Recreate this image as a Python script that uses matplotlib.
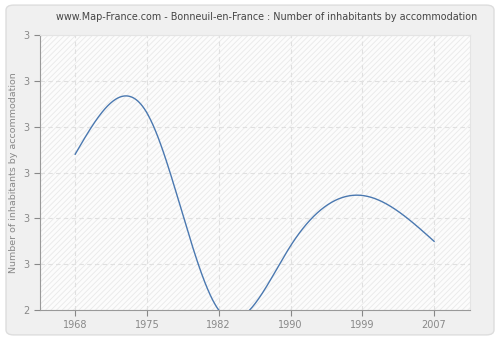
import numpy as np
import matplotlib.pyplot as plt
from matplotlib.patches import FancyBboxPatch, Rectangle

# data
years = ["1968", "1975", "1982", "1990", "1999", "2007"]
values = [2.74, 2.83, 2.40, 2.54, 2.65, 2.55]
ytick_vals = [2.4, 2.5, 2.6, 2.7, 2.8, 2.9, 3.0]
ytick_labels = ["2", "3", "3", "3", "3", "3", "3"]


def natural_spline(x, y, xs):
    # plain natural cubic spline, only used to draw the smooth line
    x = np.asarray(x, float)
    y = np.asarray(y, float)
    n = len(x)
    h = np.diff(x)
    A = np.zeros((n, n))
    b = np.zeros(n)
    A[0, 0] = 1
    A[-1, -1] = 1
    for i in range(1, n - 1):
        A[i, i - 1] = h[i - 1]
        A[i, i] = 2 * (h[i - 1] + h[i])
        A[i, i + 1] = h[i]
        b[i] = 3 * ((y[i + 1] - y[i]) / h[i] - (y[i] - y[i - 1]) / h[i - 1])
    c = np.linalg.solve(A, b)
    out = np.zeros_like(xs)
    for k, xv in enumerate(xs):
        i = min(np.searchsorted(x, xv, side="right") - 1, n - 2)
        i = max(i, 0)
        d = xv - x[i]
        bi = (y[i + 1] - y[i]) / h[i] - h[i] * (2 * c[i] + c[i + 1]) / 3
        di = (c[i + 1] - c[i]) / (3 * h[i])
        out[k] = y[i] + bi * d + c[i] * d ** 2 + di * d ** 3
    return out


pos = np.arange(len(years))
xs = np.linspace(pos[0], pos[-1], 400)
ys = natural_spline(pos, values, xs)

plt.rcParams['hatch.linewidth'] = 0.6
fig = plt.figure(figsize=(5, 3.4), dpi=100)
fig.patch.set_facecolor("white")
bg = FancyBboxPatch((0.012, 0.015), 0.976, 0.97,
                    boxstyle="round,pad=0,rounding_size=0.015",
                    transform=fig.transFigure, facecolor="#f0f0f0",
                    edgecolor="#dddddd", linewidth=1, zorder=-10)
fig.patches.append(bg)

ax = fig.add_axes([0.08, 0.088, 0.86, 0.809])
ax.set_zorder(1)
ax.set_facecolor("#fcfcfc")
ax.add_patch(Rectangle((0, 0), 1, 1, transform=ax.transAxes, facecolor="none",
                       edgecolor="#e9e9e9", hatch="//////", linewidth=0, zorder=0))

ax.plot(xs, ys, color="#4a78b0", linewidth=1, zorder=3)

ax.set_xlim(-0.49, 5.5)
ax.set_ylim(2.4, 3.0)
ax.set_xticks(pos)
ax.set_xticklabels(years)
ax.set_yticks(ytick_vals)
ax.set_yticklabels(ytick_labels)
ax.grid(True, color="#e0e0e0", linestyle=(0, (4, 3)), linewidth=0.8)
ax.set_axisbelow(True)

for s in ["top", "right"]:
    ax.spines[s].set_color("#e4e4e4")
for s in ["left", "bottom"]:
    ax.spines[s].set_color("#999999")
ax.tick_params(colors="#888888", labelsize=7, length=4, width=0.8)
for lab in ax.get_xticklabels() + ax.get_yticklabels():
    lab.set_color("#888888")

ax.set_ylabel("Number of inhabitants by accommodation", color="#888888", fontsize=6.8)
fig.text(0.534, 0.95,
         "www.Map-France.com - Bonneuil-en-France : Number of inhabitants by accommodation",
         color="#444444", fontsize=6.9, ha="center", va="center")

fig.savefig("out.png", dpi=100, facecolor=fig.get_facecolor())
